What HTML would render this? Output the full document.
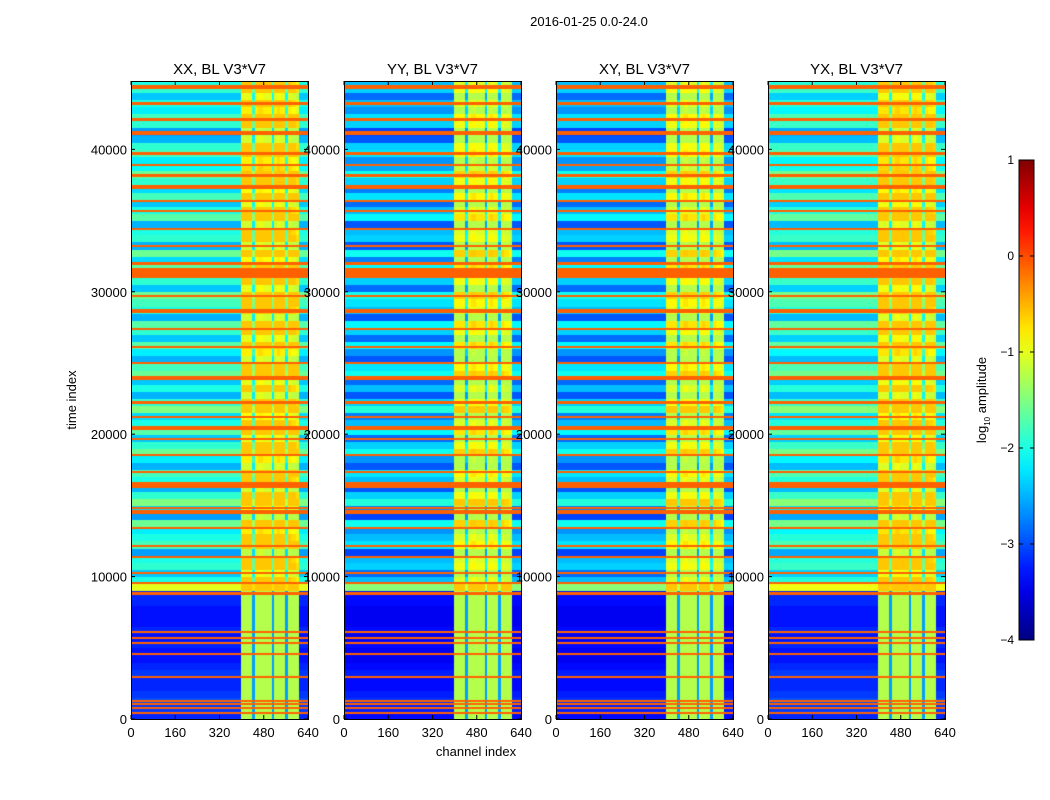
<!DOCTYPE html>
<html><head><meta charset="utf-8">
<style>
html,body{margin:0;padding:0;background:#fff;}
#wrap{position:relative;width:1050px;height:800px;overflow:hidden;font-family:"Liberation Sans",sans-serif;}
canvas{position:absolute;}
svg{position:absolute;left:0;top:0;}
</style></head>
<body>
<div id="wrap">
<canvas id="c0"></canvas>
<canvas id="c1"></canvas>
<canvas id="c2"></canvas>
<canvas id="c3"></canvas>
<svg id="s" width="1050" height="800"></svg>
</div>
<script>
// time bins of 500 samples, bottom (0) to top (~44800): log10 amplitude level
const rowLevels = [
-3.2,-3.1,-3.0,-3.1,-3.2,-3.2,-3.1,-3.2,-3.3,-3.3,-3.2,-3.3,-3.2,-3.3,-3.3,-3.3,-3.2,-3.2,
-1.0,-2.0,
-2.4,-1.9,-2.0,-2.6,-1.8,-2.0,-2.2,-1.6,-2.6,-2.3,-1.5,-1.9,-2.5,-2.0,-1.8,-2.5,-2.2,-1.6,-1.9,-2.4,
-1.7,-2.0,-2.3,-1.5,-1.9,-2.5,-2.0,-2.4,-1.6,-1.8,-2.5,-2.2,-1.7,-2.4,-1.9,-1.7,-2.5,-2.0,-1.8,-1.6,
-2.4,-1.9,-1.7,-1.7,-2.3,-1.6,-2.5,-1.9,-2.0,-2.5,-1.7,-2.0,-2.4,-1.8,-2.3,-1.9,-1.6,-2.1,-2.2,-1.8,
-1.9,-2.5,-2.6,-1.9,-1.8,-2.2,-2.0,-2.4,-1.9,-2.0
];
// flagged (saturated) time ranges: start time and duration in samples
const flagStart = [400,750,1050,1200,2900,4500,5300,5600,6000,8700,9500,10200,11300,12100,13300,14400,14800,16200,17300,
18500,19600,20300,21100,22150,23850,24900,26100,27300,28500,29600,31000,31900,33100,34300,35600,36300,37200,38100,38800,39600,41000,42000,43100,44200];
const flagLen = [120,100,100,120,130,130,100,130,150,200,120,150,120,120,150,250,120,450,120,
120,150,300,150,200,250,150,120,150,300,150,700,200,150,150,120,150,300,200,150,200,300,200,200,300];
// channel bins of 10 channels (0..640): in-band boost
const chanBoost = [
0,0,0,0,0,0,0,0,0,0, 0,0,0,0,0,0,0,0,0,0, 0,0,0,0,0,0,0,0,0,0, 0,0,0,0,0,0,0,0,0,0,
1.4,1.4,1.4,1.4,0.3,1.4,1.5,1.5,1.4,1.4, 1.4,0.3,1.4,1.5,1.4,1.4,0.3,1.4,1.3,1.3,
1.2,0,0,0
];
const panelTitles = ["XX, BL V3*V7","YY, BL V3*V7","XY, BL V3*V7","YX, BL V3*V7"];
const panelOffset = [0,-0.45,-0.45,0.05];
const xTicks = [0,160,320,480,640];
const yTicks = [0,10000,20000,30000,40000];
const cbTicks = [-4,-3,-2,-1,0,1];
const cbTickLabels = ["\u22124","\u22123","\u22122","\u22121","0","1"];
const flagValue = -0.1;

const panelLeft = [131,344,556,768];
const PW = 177, PT = 81, PB = 719, TMAX = 44800, VMIN=-4, VMAX=1;
const xs = (p,c)=> panelLeft[p] + c/640*PW;
const ys = t => PB - t/TMAX*(PB-PT);

function jet(v){
  let x = Math.max(0,Math.min(1,(v-VMIN)/(VMAX-VMIN)));
  const f = (a)=>Math.max(0,Math.min(1,1.5-Math.abs(4*x-a)));
  return `rgb(${Math.round(f(3)*255)},${Math.round(f(2)*255)},${Math.round(f(1)*255)})`;
}

for(let p=0;p<4;p++){
  const cv = document.getElementById('c'+p);
  cv.width = PW; cv.height = PB-PT;
  cv.style.left = panelLeft[p]+'px'; cv.style.top = PT+'px';
  const ctx = cv.getContext('2d');
  for(let r=0;r<rowLevels.length;r++){
    const lvl = rowLevels[r];
    const y0 = ys((r+1)*500)-PT, y1 = ys(r*500)-PT;
    for(let c=0;c<chanBoost.length;c++){
      const low = lvl < -2.9;
      let v = lvl + panelOffset[p]*(low?0.3:1);
      if(chanBoost[c]>0) v = Math.max(v + chanBoost[c], chanBoost[c]>1 ? -1.25 : -2.6);
      v = Math.min(v, -0.6);
      ctx.fillStyle = jet(v);
      const x0 = xs(p,c*10)-panelLeft[p], x1 = xs(p,(c+1)*10)-panelLeft[p];
      ctx.fillRect(Math.floor(x0), Math.floor(y0), Math.ceil(x1)-Math.floor(x0), Math.ceil(y1)-Math.floor(y0));
    }
  }
  ctx.fillStyle = jet(flagValue);
  for(let i=0;i<flagStart.length;i++){
    const ya = ys(flagStart[i]+flagLen[i])-PT, yb = ys(flagStart[i])-PT;
    ctx.fillRect(0, Math.round(ya), PW, Math.max(2, Math.round(yb-ya)));
  }
}

const s = document.getElementById('s');
const NS = "http://www.w3.org/2000/svg";
function add(tag, attrs, parent, text){
  const e = document.createElementNS(NS, tag);
  for(const k in attrs) e.setAttribute(k, attrs[k]);
  if(text!==undefined) e.textContent = text;
  (parent||s).appendChild(e); return e;
}
const sup = add('text',{x:589,y:26,'font-size':13,'text-anchor':'middle',fill:'#000'},s,'2016-01-25 0.0-24.0');



for(let p=0;p<4;p++){
  const g = add('g',{});
  
  
  const fr = add('rect',{x:panelLeft[p]+0.5,y:PT+0.5,width:PW,height:PB-PT,fill:'none',stroke:'#000','stroke-width':1},g);
  
  
  const t = add('text',{x:panelLeft[p]+PW/2,y:74,'font-size':15,'text-anchor':'middle'},g,panelTitles[p]);
  
  
  xTicks.forEach(v=>{
    const x = xs(p,v);
    add('line',{x1:x,x2:x,y1:PB,y2:PB-4,stroke:'#000'},g);
    add('line',{x1:x,x2:x,y1:PT,y2:PT+4,stroke:'#000'},g);
    const l = add('text',{x:x,y:PB+18,'font-size':13,'text-anchor':'middle'},g,String(v));
    
    
  });
  yTicks.forEach(v=>{
    const y = ys(v);
    add('line',{x1:panelLeft[p],x2:panelLeft[p]+4,y1:y,y2:y,stroke:'#000'},g);
    add('line',{x1:panelLeft[p]+PW,x2:panelLeft[p]+PW-4,y1:y,y2:y,stroke:'#000'},g);
    const l = add('text',{x:panelLeft[p]-4,y:y+5,'font-size':13,'text-anchor':'end'},g,String(v));
    
    
  });
}
const xl = add('text',{x:476,y:756,'font-size':13,'text-anchor':'middle'},s,'channel index');


const yl = add('text',{x:0,y:0,'font-size':13,'text-anchor':'middle',transform:'translate(76,400) rotate(-90)'},s,'time index');



// colorbar
const CBX=1019, CBW=15, CBT=160, CBB=640;
const cby = v => CBB - (v-VMIN)/(VMAX-VMIN)*(CBB-CBT);
const defs = add('defs',{});
const lg = add('linearGradient',{id:'jetg',x1:0,y1:1,x2:0,y2:0},defs);
for(let i=0;i<=20;i++){ add('stop',{offset:i/20,'stop-color':jet(VMIN+(VMAX-VMIN)*i/20)},lg); }
const cbg = add('g',{});


add('rect',{x:CBX,y:CBT,width:CBW,height:CBB-CBT,fill:'url(#jetg)',stroke:'#000','stroke-width':1},cbg);
cbTicks.forEach((v,i)=>{
  const y = cby(v);
  add('line',{x1:CBX,x2:CBX+4,y1:y,y2:y,stroke:'#000'},cbg);
  add('line',{x1:CBX+CBW,x2:CBX+CBW-4,y1:y,y2:y,stroke:'#000'},cbg);
  const l = add('text',{x:CBX-5,y:y+4,'font-size':12,'text-anchor':'end'},cbg,cbTickLabels[i]);
  
  
});
const cbl = add('text',{x:0,y:0,'font-size':13,'text-anchor':'middle',transform:'translate(986,400) rotate(-90)'},cbg);


add('tspan',{},cbl,'log');
add('tspan',{'font-size':8,dy:4},cbl,'10');
add('tspan',{dy:-4},cbl,' amplitude');
</script>
</body></html>
